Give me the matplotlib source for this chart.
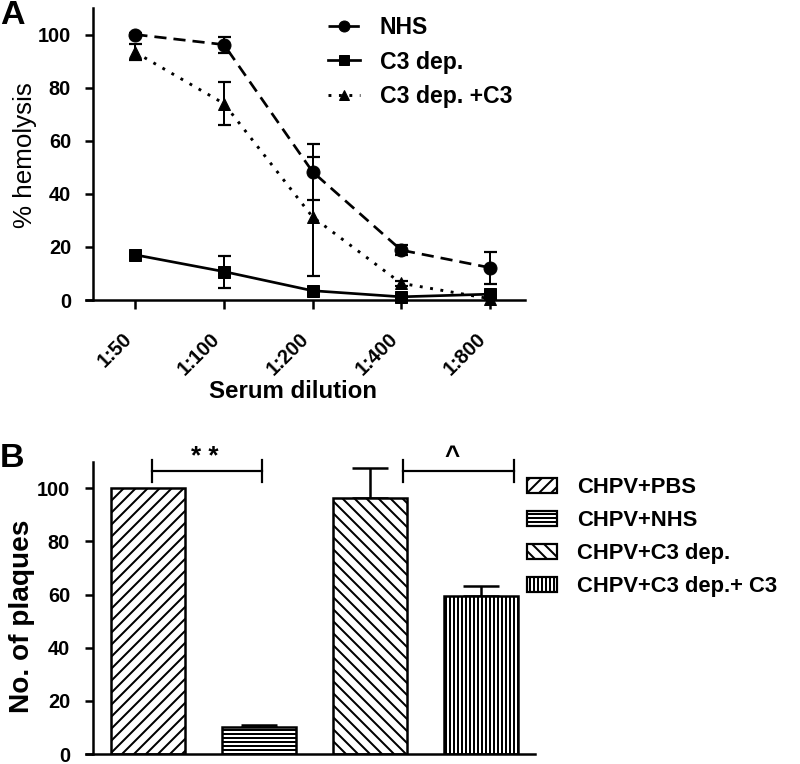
import matplotlib
matplotlib.use("Agg")
import matplotlib.pyplot as plt
import numpy as np
from matplotlib.lines import Line2D
from matplotlib.patches import Patch

# ---------------- data ----------------
dilutions = ['1:50', '1:100', '1:200', '1:400', '1:800']
nhs = [100, 96.2, 48.3, 18.8, 12.2]
nhs_err = [0.5, 3.0, 10.6, 2.0, 6.0]
c3dep = [17.0, 10.7, 3.5, 1.2, 2.2]
c3dep_err = [0.5, 6.0, 0.5, 0.5, 1.0]
c3dep_c3 = [93.3, 74.0, 31.3, 6.3, 0.5]
c3dep_c3_err = [3.0, 8.0, 22.4, 1.0, 0.5]

groups = ['CHPV+PBS', 'CHPV+NHS', 'CHPV+C3 dep.', 'CHPV+C3 dep.+ C3']
plaques = [100, 10.0, 96.2, 59.6]
plaques_err = [0, 1.0, 11.5, 3.7]
hatches = ['//', '---', '\\\\', '|||']

plt.rcParams['font.family'] = ['Liberation Sans', 'DejaVu Sans']
plt.rcParams['hatch.linewidth'] = 2.0
plt.rcParams['axes.linewidth'] = 2.5

W, H = 800, 764
fig = plt.figure(figsize=(W / 72, H / 72), dpi=72)

def px_axes(l, t, r, b):
    return fig.add_axes([l / W, 1 - b / H, (r - l) / W, (b - t) / H])

# ---------------- Panel A ----------------
axA = px_axes(86, 8, 525, 300)
x = np.arange(len(dilutions))
styles = [
    dict(values=nhs, err=nhs_err, marker='o', ms=13, dashes=(4.5, 2.6), lw=2.7, label='NHS'),
    dict(values=c3dep, err=c3dep_err, marker='s', ms=12, dashes=None, lw=2.7, label='C3 dep.'),
    dict(values=c3dep_c3, err=c3dep_c3_err, marker='^', ms=12, dashes=(1, 2.6), lw=2.9, label='C3 dep. +C3'),
]
leg_lines = []
for s in styles:
    kw = dict(color='black', lw=s['lw'], marker=s['marker'], ms=s['ms'])
    if s['dashes'] is not None:
        kw['dashes'] = s['dashes']
    axA.errorbar(x, s['values'], yerr=s['err'], capsize=6.5, elinewidth=2, capthick=2.2,
                 clip_on=False, zorder=3, **kw)
    lkw = dict(color='black', lw=s['lw'], marker=s['marker'], ms=s['ms'] - 2)
    if s['dashes'] is not None:
        lkw['dashes'] = s['dashes']
    leg_lines.append(Line2D([], [], **lkw))
axA.set_xlim(-0.557, (522 - 135) / 88)
axA.set_ylim(0, 110)
axA.spines['left'].set_position(('data', -0.477))
axA.spines['top'].set_visible(False)
axA.spines['right'].set_visible(False)
axA.set_yticks([0, 20, 40, 60, 80, 100])
axA.set_xticks(x)
axA.set_xticklabels(dilutions, rotation=45, ha='right', fontsize=20, fontweight='bold')
for t in axA.get_yticklabels():
    t.set_fontsize(20)
    t.set_fontweight('bold')
axA.tick_params(axis='y', length=8, width=2.5, pad=14, direction='out')
axA.tick_params(axis='x', length=9, width=2.5, pad=20, direction='out')
fig.text(25 / W, 1 - 155 / H, '% hemolysis', rotation=90, fontsize=26,
         ha='center', va='center')
fig.text(293 / W, 1 - 391 / H, 'Serum dilution', fontsize=24, fontweight='bold',
         ha='center', va='center')
fig.text(0 / W, 1 - 15 / H, 'A', fontsize=34, fontweight='bold', ha='left', va='center')

axA.legend(leg_lines, [s['label'] for s in styles], loc='upper left', frameon=False,
           bbox_to_anchor=(328 / W, 1 - 16 / H), bbox_transform=fig.transFigure,
           borderpad=0, borderaxespad=0, handlelength=1.4,
           handletextpad=0.85, labelspacing=0.5, prop={'weight': 'bold', 'size': 23})

# ---------------- Panel B ----------------
axB = px_axes(86, 461.7, 535, 754)
xb = np.arange(len(groups))
lower = [0] * len(groups)
bars = axB.bar(xb, plaques, width=0.667, color='white', edgecolor='black', lw=2.5, zorder=2)
for b, h in zip(bars, hatches):
    b.set_hatch(h)
axB.errorbar(xb[1:], plaques[1:], yerr=[lower[1:], plaques_err[1:]], fmt='none',
             ecolor='black', elinewidth=2.5, capsize=18, capthick=2.5, zorder=1)
axB.set_xlim(-0.559, 3.486)
axB.set_ylim(0, 110)
axB.spines['left'].set_position(('data', -0.495))
axB.spines['top'].set_visible(False)
axB.spines['right'].set_visible(False)
axB.set_xticks([])
axB.set_yticks([0, 20, 40, 60, 80, 100])
for t in axB.get_yticklabels():
    t.set_fontsize(20)
    t.set_fontweight('bold')
axB.tick_params(axis='y', length=8, width=2.5, pad=15, direction='out')
fig.text(22 / W, 1 - 616 / H, 'No. of plaques', rotation=90, fontsize=28,
         fontweight='bold', ha='center', va='center')
fig.text(0 / W, 1 - 458 / H, 'B', fontsize=34, fontweight='bold', ha='left', va='center')

# significance brackets
def bracket(x0, x1, y, ytop, ybot, label, dx):
    axB.plot([x0, x1], [y, y], color='black', lw=2.2, clip_on=False)
    axB.plot([x0, x0], [ybot, ytop], color='black', lw=2.2, clip_on=False)
    axB.plot([x1, x1], [ybot, ytop], color='black', lw=2.2, clip_on=False)
    axB.text((x0 + x1) / 2 + dx, y + 0.5, label, fontsize=26, fontweight='bold',
             ha='center', va='bottom', clip_on=False)

bracket(0.036, 1.027, 106.6, 110.6, 102.4, '* *', -0.02)
bracket(2.297, 3.297, 106.6, 110.6, 102.4, '^', -0.06)

leg_handles = [Patch(facecolor='white', edgecolor='black', hatch=h, lw=2.2) for h in hatches]
axB.legend(leg_handles, groups, loc='upper left', frameon=False,
           bbox_to_anchor=(527 / W, 1 - 477 / H), bbox_transform=fig.transFigure,
           borderpad=0, borderaxespad=0, handlelength=1.36, handleheight=0.68,
           handletextpad=0.9, labelspacing=0.55, prop={'weight': 'bold', 'size': 22})

fig.savefig('out.png', dpi=72)
